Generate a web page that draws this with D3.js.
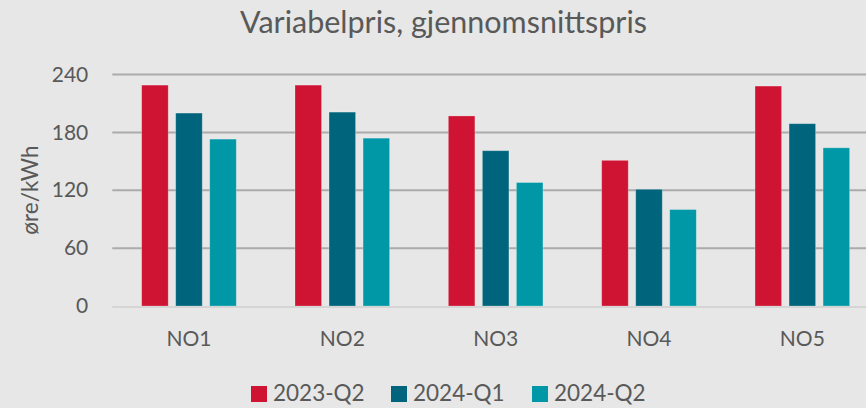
<!DOCTYPE html>
<html>
<head>
<meta charset="utf-8">
<script src="https://cdn.jsdelivr.net/npm/d3@7"></script>
<style>
  html, body { margin: 0; padding: 0; background: #e6e7e6; }
  svg { display: block; font-family: "Lato", "Open Sans", sans-serif; }
</style>
</head>
<body>
<svg id="chart" width="866" height="408"></svg>
<script>
// Price zones and quarterly average variable prices (øre/kWh)
const zones = ["NO1", "NO2", "NO3", "NO4", "NO5"];
const periods = ["2023-Q2", "2024-Q1", "2024-Q2"];
const price2023Q2 = [229, 229, 197, 151, 228];
const price2024Q1 = [200, 201, 161, 121, 189];
const price2024Q2 = [173, 174, 128, 100, 164];
const yTicks = [0, 60, 120, 180, 240];
const colors = ["#ce1432", "#00657c", "#0097a7"];

const seriesValues = [price2023Q2, price2024Q1, price2024Q2];
const rows = zones.map((z, i) => ({ zone: z, values: periods.map((p, j) => ({ period: p, value: seriesValues[j][i] })) }));

const svg = d3.select("#chart");
const W = 866, H = 408;
const plotLeft = 112.3, plotRight = 879, plotTop = 74.5, plotBottom = 306;
const groupWidth = 94.6;

const x0 = d3.scaleBand().domain(zones).range([plotLeft, plotRight]).padding(0);
const x1 = d3.scaleBand().domain(periods).range([0, groupWidth]).paddingInner(0.22).paddingOuter(0);
const y = d3.scaleLinear().domain([0, 240]).range([plotBottom, plotTop]);
const color = d3.scaleOrdinal().domain(periods).range(colors);

// Title
svg.append("text")
  .attr("x", 443.5).attr("y", 33)
  .attr("text-anchor", "middle")
  .attr("font-size", 30.5)
  .attr("fill", "#595959")
  .text("Variabelpris, gjennomsnittspris");

// Value axis labels
const yAxis = d3.axisLeft(y).tickValues(yTicks).tickSize(0).tickPadding(24);
const gy = svg.append("g").attr("transform", `translate(${plotLeft},0)`).call(yAxis);
gy.select(".domain").remove();
gy.selectAll("text").attr("font-size", 21).attr("fill", "#595959").attr("font-family", "Lato, 'Open Sans', sans-serif");

// Horizontal gridlines
svg.append("g").selectAll("line")
  .data(yTicks.filter(t => t > 0))
  .join("line")
  .attr("x1", plotLeft).attr("x2", W)
  .attr("y1", d => y(d)).attr("y2", d => y(d))
  .attr("stroke", "#ababab").attr("stroke-width", 2);

// Bars
const groups = svg.append("g").selectAll("g")
  .data(rows)
  .join("g")
  .attr("transform", d => `translate(${x0(d.zone) + x0.bandwidth() / 2 - groupWidth / 2},0)`);

groups.selectAll("rect")
  .data(d => d.values)
  .join("rect")
  .attr("x", d => x1(d.period))
  .attr("width", x1.bandwidth())
  .attr("y", d => y(d.value))
  .attr("height", d => y(0) - y(d.value))
  .attr("fill", d => color(d.period))
  .attr("stroke", "rgba(255,255,255,0.3)")
  .attr("stroke-width", 0.8);

// Baseline
svg.append("line")
  .attr("x1", plotLeft).attr("x2", W)
  .attr("y1", y(0) + 1).attr("y2", y(0) + 1)
  .attr("stroke", "#d4d5d4").attr("stroke-width", 2);

// Category axis
const xAxis = d3.axisBottom(x0).tickSize(0).tickPadding(25);
const gx = svg.append("g").attr("transform", `translate(0,${y(0)})`).call(xAxis);
gx.select(".domain").remove();
gx.selectAll("text").attr("font-size", 21).attr("fill", "#595959").attr("font-family", "Lato, 'Open Sans', sans-serif");

// Value axis title
svg.append("text")
  .attr("transform", `translate(38,190) rotate(-90)`)
  .attr("text-anchor", "middle")
  .attr("font-size", 22.5)
  .attr("fill", "#595959")
  .text("øre/kWh");

// Legend
const legendX = [251, 391, 532];
const legend = svg.append("g").selectAll("g")
  .data(periods)
  .join("g")
  .attr("transform", (d, i) => `translate(${legendX[i]},386)`);
legend.append("rect").attr("width", 16).attr("height", 16).attr("fill", d => color(d));
legend.append("text")
  .attr("x", 22).attr("y", 15)
  .attr("font-size", 22.5)
  .attr("fill", "#595959")
  .text(d => d);
</script>
</body>
</html>
